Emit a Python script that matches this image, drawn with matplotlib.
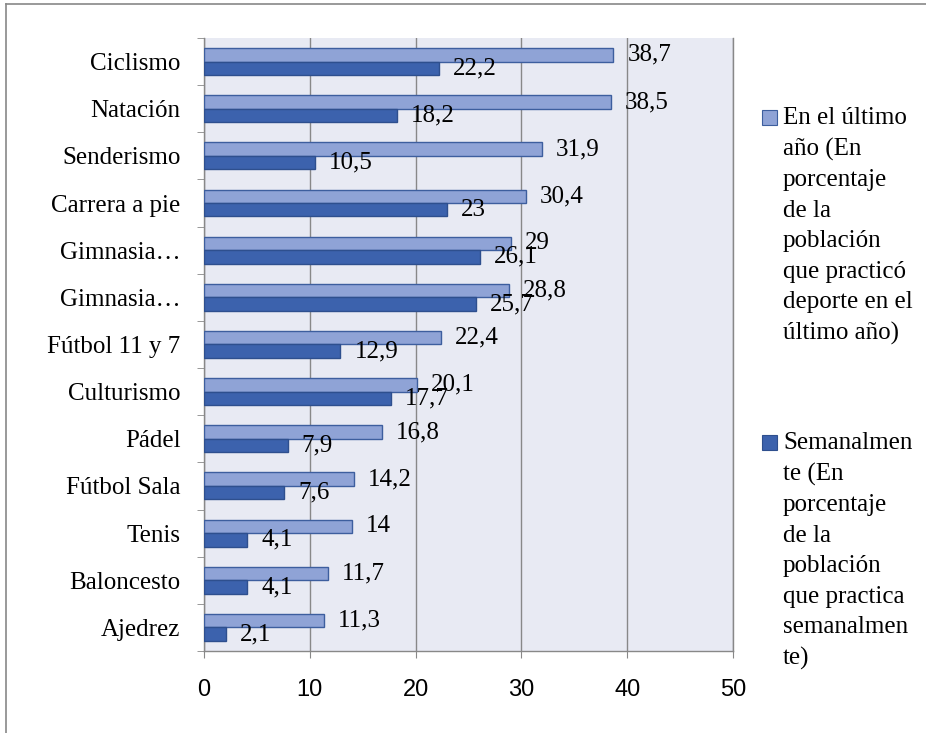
import matplotlib.pyplot as plt
from matplotlib.lines import Line2D
from matplotlib.patches import Rectangle
import numpy as np

deportes = ["Ciclismo", "Natación", "Senderismo", "Carrera a pie", "Gimnasia…",
            "Gimnasia…", "Fútbol 11 y 7", "Culturismo", "Pádel", "Fútbol Sala",
            "Tenis", "Baloncesto", "Ajedrez"]
ultimo_ano = [38.7, 38.5, 31.9, 30.4, 29, 28.8, 22.4, 20.1, 16.8, 14.2, 14, 11.7, 11.3]
semanal = [22.2, 18.2, 10.5, 23, 26.1, 25.7, 12.9, 17.7, 7.9, 7.6, 4.1, 4.1, 2.1]
x_ticks = [0, 10, 20, 30, 40, 50]

leyenda_1 = "En el último\naño (En\nporcentaje\nde la\npoblación\nque practicó\ndeporte en el\núltimo año)"
leyenda_2 = "Semanalmen\nte (En\nporcentaje\nde la\npoblación\nque practica\nsemanalmen\nte)"

LIGHT = "#8FA3D6"
LIGHT_EDGE = "#3D5E9E"
DARK = "#3C62AD"
DARK_EDGE = "#2E4F8E"
GRID = "#888888"
SERIF = "Liberation Serif"


def fmt(v):
    return f"{v:g}".replace(".", ",")


fig = plt.figure(figsize=(9.26, 7.33), dpi=100)
ax = fig.add_axes([0.2203, 0.1119, 0.5713, 0.8363])
ax.set_facecolor("#E8EAF3")

n = len(deportes)
y = np.arange(n)[::-1]
bw = 1 / 3.5

ax.barh(y + bw / 2, ultimo_ano, height=bw, color=LIGHT, edgecolor=LIGHT_EDGE,
        linewidth=1, zorder=3)
ax.barh(y - bw / 2, semanal, height=bw, color=DARK, edgecolor=DARK_EDGE,
        linewidth=1, zorder=3)

for yi, v in zip(y, ultimo_ano):
    ax.annotate(fmt(v), xy=(v, yi + bw / 2), xytext=(10, 0),
                textcoords="offset points", va="center", ha="left",
                fontsize=18, family=SERIF, zorder=4)
for yi, v in zip(y, semanal):
    ax.annotate(fmt(v), xy=(v, yi - bw / 2), xytext=(10, 0),
                textcoords="offset points", va="center", ha="left",
                fontsize=18, family=SERIF, zorder=4)

ax.set_xlim(0, 50)
ax.set_ylim(-0.5, n - 0.5)
ax.set_xticks(x_ticks)
ax.set_xticklabels([str(t) for t in x_ticks], family="Liberation Sans", fontsize=17)
ax.tick_params(axis="x", direction="out", length=5, color=GRID, pad=15)

ax.set_yticks(y)
ax.set_yticklabels(deportes, family=SERIF, fontsize=18)
ax.tick_params(axis="y", which="major", length=0, pad=17)
ax.set_yticks(np.arange(-0.5, n, 1), minor=True)
ax.tick_params(axis="y", which="minor", direction="out", length=5, color=GRID)

ax.grid(axis="x", color=GRID, linewidth=1, zorder=1)
ax.set_axisbelow(True)
ax.spines["top"].set_visible(False)
for side in ["left", "bottom", "right"]:
    ax.spines[side].set_color(GRID)
    ax.spines[side].set_linewidth(1)

# leyenda dibujada a mano (cuadro alineado con la primera línea)
W, H = 926, 733
for (txt, color, edge, yline) in [(leyenda_1, LIGHT, LIGHT_EDGE, 117),
                                  (leyenda_2, DARK, DARK_EDGE, 442)]:
    fig.patches.append(Rectangle((762 / W, 1 - (yline + 8) / H), 15 / W, 15 / H,
                                 transform=fig.transFigure, facecolor=color,
                                 edgecolor=edge, linewidth=0.8))
    fig.text(783 / W, 1 - (yline - 10) / H, txt, family=SERIF, fontsize=18,
             va="top", ha="left", linespacing=1.5)

# marco exterior (solo arriba e izquierda visibles)
fig.add_artist(Line2D([6 / W, 1], [1 - 4 / H, 1 - 4 / H], transform=fig.transFigure,
                      color=GRID, linewidth=1.2))
fig.add_artist(Line2D([6 / W, 6 / W], [0, 1 - 4 / H], transform=fig.transFigure,
                      color=GRID, linewidth=1.2))

fig.savefig("out.png", dpi=100)
